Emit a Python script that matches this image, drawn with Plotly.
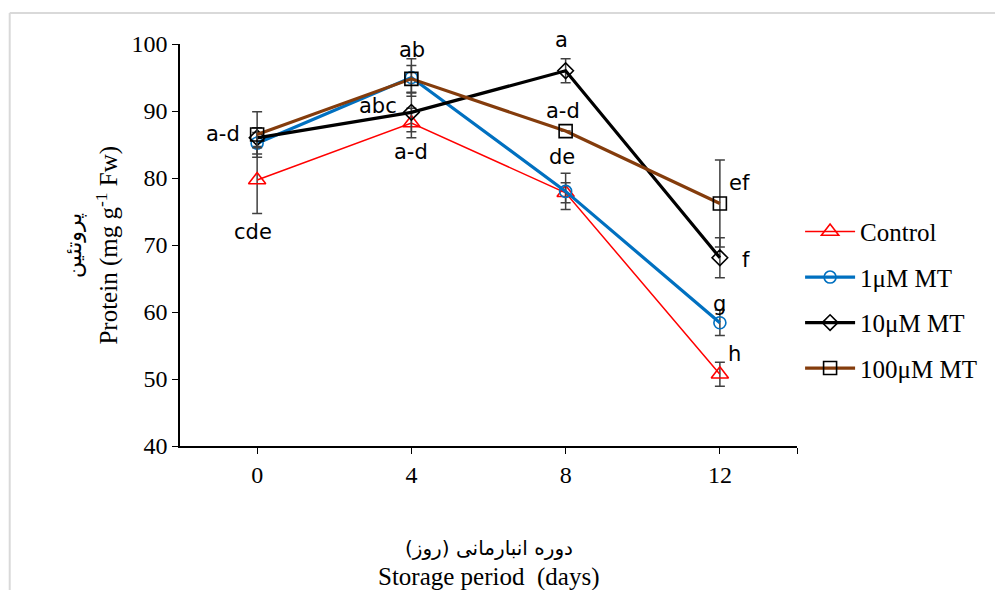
import plotly.graph_objects as go

days = [0, 4, 8, 12]
series_names = ["Control", "1\u03bcM MT", "10\u03bcM MT", "100\u03bcM MT"]
control = [79.7, 88.2, 77.8, 50.7]
mt1 = [85.2, 95.0, 78.0, 58.4]
mt10 = [86.0, 89.8, 96.0, 68.1]
mt100 = [86.5, 94.8, 87.0, 76.2]
err_control = [5.0, 2.2, 1.5, 1.8]
err_mt1 = [1.6, 2.8, 2.7, 1.9]
err_mt10 = [1.5, 2.9, 1.8, 3.0]
err_mt100 = [3.4, 2.0, 0.0, 6.5]
yticks = [40, 50, 60, 70, 80, 90, 100]
xticks = [0, 4, 8, 12]
x_end_tick = [14]

# letter labels: (series index, point index, text, xshift, yshift)
letters = [
    (3, 0, "a-d", -34, 0), (0, 0, "cde", -4, -52),
    (1, 1, "ab", 1, 28), (2, 1, "abc", -33, 6), (0, 1, "a-d", 0, -29),
    (2, 2, "a", -4, 31), (3, 2, "a-d", -3, 20), (1, 2, "de", -4, 34),
    (3, 3, "ef", 20, 20), (2, 3, "f", 26, -2), (1, 3, "g", 0, 19), (0, 3, "h", 15, 20),
]

values = [control, mt1, mt10, mt100]
errors = [err_control, err_mt1, err_mt10, err_mt100]
line_colors = ["#FF0000", "#0070C0", "#000000", "#843C0C"]
marker_colors = ["#FF0000", "#0070C0", "#000000", "#000000"]
symbols = ["triangle-up-open", "circle-open", "diamond-open", "square-open"]
widths = [1.5, 3.2, 3.2, 3.2]
sizes = [15, 12, 12, 13]

fig = go.Figure()
for name, v, e, lc, mc, s, w, sz in zip(series_names, values, errors, line_colors,
                                          marker_colors, symbols, widths, sizes):
    fig.add_trace(go.Scatter(
        x=days, y=v, name=name, legendgroup=name, mode="lines+markers",
        line=dict(color=lc, width=w),
        marker=dict(symbol=s, color=mc, size=sz, line=dict(width=1.6, color=mc)),
        error_y=dict(type="data", array=e, visible=True, color="#404040",
                     thickness=1.5, width=5),
    ))

for si, pi, txt, xs, ys in letters:
    fig.add_annotation(x=days[pi], y=values[si][pi], text=txt, showarrow=False,
                       xshift=xs, yshift=ys,
                       font=dict(family="DejaVu Sans", size=21, color="#000000"))

# axis titles
fig.add_annotation(xref="paper", yref="paper", x=-0.172, y=0.5, xanchor="center", yanchor="middle",
                   text="\u067e\u0631\u0648\u062a\u0626\u06cc\u0646",
                   textangle=-90, showarrow=False,
                   font=dict(family="DejaVu Sans", size=22, color="#000"))
fig.add_annotation(xref="paper", yref="paper", x=-0.119, y=0.5, xanchor="center", yanchor="middle",
                   text="Protein (mg g<sup>-1</sup> Fw)", textangle=-90, showarrow=False,
                   font=dict(family="Liberation Serif", size=25, color="#000"))
fig.add_annotation(xref="paper", yref="paper", x=0.5, y=-0.253, xanchor="center", yanchor="middle",
                   text="\u062f\u0648\u0631\u0647 \u0627\u0646\u0628\u0627\u0631\u0645\u0627\u0646\u06cc (\u0631\u0648\u0632)",
                   showarrow=False, font=dict(family="DejaVu Sans", size=20, color="#000"))
fig.add_annotation(xref="paper", yref="paper", x=0.5, y=-0.326, xanchor="center", yanchor="middle",
                   text="Storage period  (days)", showarrow=False,
                   font=dict(family="Liberation Serif", size=25, color="#000"))

# outer frame lines
fig.add_shape(type="line", xref="paper", yref="paper", x0=-0.276, x1=-0.276, y0=1.077, y1=-0.4,
              line=dict(color="#d9d9d9", width=2))
fig.add_shape(type="line", xref="paper", yref="paper", x0=-0.276, x1=1.4, y0=1.077, y1=1.077,
              line=dict(color="#d9d9d9", width=2))

fig.update_layout(
    width=995, height=582,
    margin=dict(l=172, r=206, t=36, b=144),
    paper_bgcolor="white", plot_bgcolor="white",
    showlegend=True,
    legend=dict(x=1.005, y=0.59, xanchor="left", yanchor="top",
                font=dict(family="Liberation Serif", size=25, color="#000"),
                tracegroupgap=10, itemwidth=50, bgcolor="rgba(0,0,0,0)"),
    font=dict(family="Liberation Serif", color="#000"),
)
fig.update_xaxes(range=[-2, 14], tickvals=xticks,
                 minor=dict(tickvals=x_end_tick, ticks="outside", ticklen=6,
                            tickcolor="#000", tickwidth=1, showgrid=False),
                 showline=True, linecolor="#000", linewidth=1.5, ticks="outside",
                 ticklen=6, tickcolor="#000", showgrid=False, zeroline=False,
                 tickfont=dict(family="Liberation Serif", size=24, color="#000"))
fig.update_yaxes(range=[40, 100], tickvals=yticks, showline=True, linecolor="#000",
                 linewidth=1.5, ticks="outside", ticklen=6, tickcolor="#000",
                 showgrid=False, zeroline=False,
                 tickfont=dict(family="Liberation Serif", size=24, color="#000"))

fig.write_html("out.html")
